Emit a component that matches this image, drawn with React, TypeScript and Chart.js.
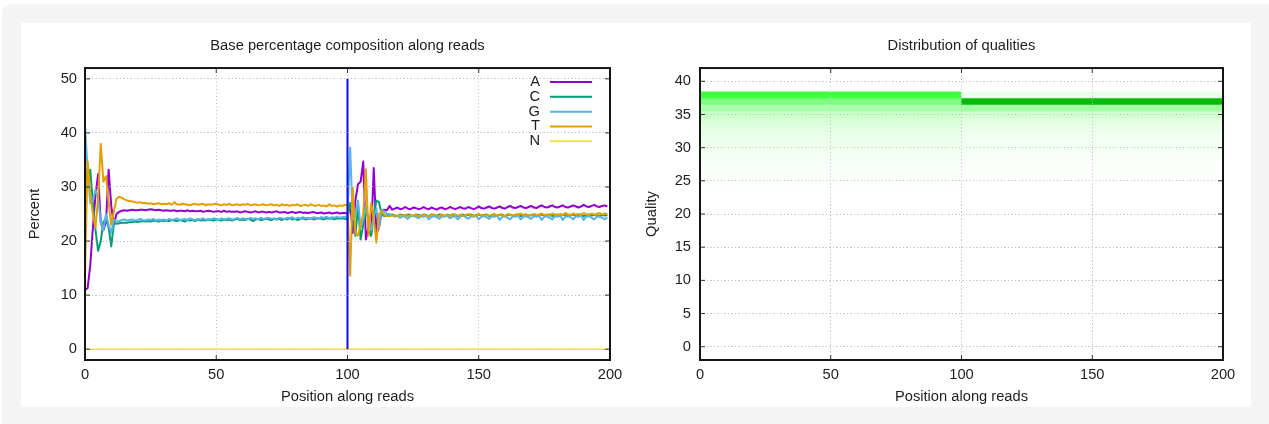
import { useEffect, useRef } from "react";
import { Chart, registerables } from "chart.js";

Chart.register(...registerables);

const FONT_FAMILY = "'Liberation Sans', Arial, Helvetica, sans-serif";
const FONT_SIZE = 14.7;
const TEXT_COLOR = "#1e1e1e";

// ---------- Data: base composition ----------
const positions: number[] = Array.from({ length: 200 }, (_, i) => i);
const positionTicks = [0, 50, 100, 150, 200];
const percentTicks = [0, 10, 20, 30, 40, 50];
const qualityTicks = [0, 5, 10, 15, 20, 25, 30, 35, 40];

const baseA = [
  10.9, 11.3, 15.5, 22.5, 28.5, 32.4, 23.5, 22.0, 23.5, 33.2, 26.5, 23.0, 25.0, 25.4, 25.6, 25.7,
  25.6, 25.7, 25.8, 25.7, 25.7, 25.8, 25.8, 25.7, 25.8, 25.9, 25.8, 25.7, 25.8, 25.7,
  25.6, 25.7, 25.6, 25.6, 25.7, 25.5, 25.6, 25.6, 25.5, 25.7, 25.5, 25.6, 25.5, 25.5, 25.6, 25.4, 25.5, 25.6, 25.5, 25.4,
  25.5, 25.5, 25.4, 25.6, 25.4, 25.5, 25.4, 25.4, 25.5, 25.3, 25.4, 25.5, 25.4, 25.3, 25.4, 25.5, 25.3, 25.4, 25.4, 25.3,
  25.4, 25.3, 25.4, 25.5, 25.3, 25.3, 25.4, 25.2, 25.3, 25.4, 25.2, 25.3, 25.4, 25.2, 25.3, 25.2, 25.3, 25.4, 25.2, 25.2,
  25.3, 25.1, 25.2, 25.3, 25.1, 25.2, 25.3, 25.1, 25.2, 25.2,
  25.0, 27.0, 21.5, 27.5, 30.5, 31.0, 34.7, 20.3, 22.5, 21.0, 33.5, 21.5, 22.5, 25.5, 25.8, 25.7,
  26.5, 25.8, 26.0, 26.2, 25.9, 26.0, 26.3, 26.0, 25.9, 26.2, 26.1, 25.9, 26.0, 26.3, 26.0, 25.9, 26.2, 26.0, 25.8, 26.1,
  26.2, 25.9, 26.0, 26.3, 26.1, 25.9, 26.1, 26.3, 26.0, 26.0, 26.3, 26.1, 25.9, 26.1, 26.4, 26.1, 26.0, 26.2, 26.4, 26.1,
  26.0, 26.2, 26.4, 26.1, 26.0, 26.3, 26.5, 26.2, 26.1, 26.3, 26.5, 26.2, 26.1, 26.3, 26.5, 26.2, 26.1, 26.4, 26.6, 26.3,
  26.2, 26.4, 26.6, 26.3, 26.2, 26.4, 26.6, 26.3, 26.2, 26.4, 26.6, 26.4, 26.2, 26.4, 26.7, 26.4, 26.3, 26.5, 26.7, 26.4,
  26.3, 26.5, 26.6, 26.4,
];

const baseC = [
  33.8, 30.5, 33.2, 27.0, 22.0, 18.2, 20.0, 23.5, 24.2, 22.5, 19.0, 23.3, 23.2, 23.3, 23.4, 23.4,
  23.4, 23.5, 23.5, 23.6, 23.5, 23.6, 23.7, 23.6, 23.7, 23.6, 23.8, 23.7, 23.6, 23.8,
  23.7, 23.8, 23.7, 23.9, 23.8, 23.7, 23.9, 23.8, 23.6, 23.9, 23.8, 23.9, 23.7, 24.0, 23.8, 23.9, 23.8, 24.0, 23.9, 23.8,
  24.0, 23.9, 23.8, 24.0, 23.9, 24.0, 23.8, 24.0, 24.1, 23.9, 24.0, 23.9, 24.1, 24.0, 23.7, 24.0, 24.1, 23.9, 24.0, 24.1,
  24.0, 23.9, 24.1, 24.0, 24.1, 23.9, 24.1, 24.0, 24.2, 24.0, 24.1, 23.9, 24.1, 24.2, 24.0, 24.1, 24.2, 24.0, 24.1, 24.2,
  24.1, 24.0, 24.2, 24.1, 24.2, 24.0, 24.2, 24.1, 24.2, 24.1,
  24.0, 27.0, 25.0, 21.0, 26.5, 20.3, 23.0, 25.5, 24.0, 21.0, 25.0, 27.5, 27.2, 25.0, 24.6, 24.8,
  24.7, 24.9, 24.8, 24.6, 24.9, 24.8, 24.7, 24.9, 24.8, 24.6, 24.9, 24.8, 24.7, 24.9, 24.8, 24.6, 24.9, 24.8, 24.7, 24.9,
  24.8, 24.6, 24.9, 24.7, 24.8, 24.9, 24.6, 24.8, 24.9, 24.7, 24.8, 24.9, 24.6, 24.8, 24.9, 24.7, 24.8, 24.9, 24.6, 24.8,
  24.9, 24.7, 24.8, 24.9, 24.6, 24.8, 24.9, 24.7, 24.8, 24.9, 24.6, 24.8, 24.9, 24.7, 24.8, 24.9, 24.6, 24.8, 24.9, 24.7,
  24.8, 24.9, 24.6, 24.8, 24.9, 24.7, 24.8, 24.9, 24.6, 24.8, 24.9, 24.7, 24.8, 24.9, 24.6, 24.8, 24.9, 24.7, 24.8, 24.9,
  24.6, 24.8, 24.7, 24.8,
];

const baseG = [
  41.5, 33.0, 27.0, 27.5, 29.5, 28.0, 23.5, 22.0, 25.0, 23.0, 21.5, 24.0, 23.6, 23.7, 23.9, 24.0,
  23.8, 23.9, 24.0, 23.8, 23.9, 24.1, 23.9, 23.8, 24.0, 23.9, 24.1, 23.8, 24.0, 23.9,
  24.0, 23.8, 24.1, 23.9, 24.0, 24.2, 23.9, 24.0, 24.1, 23.9, 24.2, 24.0, 23.9, 24.1, 24.0, 24.2, 23.9, 24.1, 24.0, 24.2,
  24.1, 23.9, 24.2, 24.0, 24.1, 24.2, 24.0, 24.1, 24.3, 24.0, 24.2, 24.1, 24.0, 24.3, 24.1, 24.2, 24.0, 24.3, 24.1, 24.2,
  24.3, 24.1, 24.2, 24.0, 24.3, 24.2, 24.1, 24.3, 24.2, 24.4, 24.1, 24.3, 24.2, 24.4, 24.2, 24.3, 24.1, 24.4, 24.3, 24.2,
  24.4, 24.3, 24.5, 24.2, 24.4, 24.3, 24.5, 24.3, 24.4, 24.5,
  24.5, 37.3, 24.0, 24.5, 27.5, 22.5, 24.0, 26.5, 23.5, 22.0, 24.5, 26.0, 22.5, 25.8, 25.5, 25.0,
  25.0, 24.8, 24.5, 24.7, 24.3, 24.6, 24.5, 24.1, 24.6, 24.7, 24.5, 24.2, 24.6, 24.5, 24.7, 24.0, 24.5, 24.6, 24.4, 24.1,
  24.6, 24.5, 24.7, 24.2, 24.5, 24.6, 24.0, 24.5, 24.7, 24.4, 24.1, 24.6, 24.5, 24.7, 24.0, 24.5, 24.6, 24.4, 24.1, 24.6,
  24.5, 24.7, 23.9, 24.5, 24.6, 24.3, 24.0, 24.6, 24.5, 24.7, 24.0, 24.5, 24.6, 24.4, 24.1, 24.6, 24.5, 24.7, 23.9, 24.5,
  24.6, 24.3, 24.0, 24.6, 24.5, 24.7, 23.9, 24.5, 24.6, 24.4, 24.0, 24.6, 24.5, 24.7, 23.9, 24.5, 24.6, 24.3, 24.0, 24.6,
  24.5, 24.3, 24.0, 24.4,
];

const baseT = [
  14.0, 34.7, 29.0, 25.0, 22.5, 28.0, 38.0, 31.0, 32.0, 27.0, 23.0, 25.5, 27.8, 28.2, 28.0, 27.7,
  27.5, 27.4, 27.3, 27.2, 27.1, 27.2, 27.0, 27.1, 26.9, 27.0, 26.8, 26.9, 27.0, 26.8,
  26.9, 26.8, 27.0, 26.7, 27.2, 26.8, 26.7, 26.9, 26.8, 26.7, 26.6, 26.8, 26.9, 26.7, 26.8, 26.9, 26.6, 26.8, 26.7, 26.8,
  26.9, 26.7, 26.6, 26.8, 26.7, 26.9, 26.6, 26.7, 26.8, 26.6, 26.8, 26.7, 26.9, 26.6, 26.7, 26.8, 26.6, 26.7, 26.8, 26.6,
  26.7, 26.8, 26.6, 26.7, 26.5, 26.8, 26.6, 26.7, 26.5, 26.7, 26.6, 26.8, 26.5, 26.6, 26.7, 26.5, 26.8, 26.6, 26.5, 26.7,
  26.5, 26.6, 26.4, 26.8, 26.5, 26.6, 26.4, 26.6, 26.5, 26.7,
  26.6, 13.6, 29.9, 21.5, 21.0, 23.0, 25.0, 33.3, 21.0, 27.0, 24.0, 19.7, 25.0, 25.6, 24.8, 24.6,
  24.6, 24.7, 24.8, 24.6, 24.8, 24.7, 24.9, 24.6, 24.8, 24.7, 24.9, 24.6, 24.7, 24.9, 24.7, 24.6, 24.8, 24.9, 24.7, 24.6,
  24.9, 24.7, 24.8, 24.6, 25.0, 24.8, 24.7, 24.9, 24.6, 24.8, 25.0, 24.7, 24.8, 24.6, 25.0, 24.8, 24.7, 24.9, 24.7, 24.8,
  25.0, 24.7, 24.9, 24.8, 24.6, 25.0, 24.8, 24.7, 24.9, 24.8, 25.1, 24.7, 24.9, 24.8, 24.7, 25.0, 24.8, 24.9, 25.1, 24.8,
  24.9, 24.7, 25.1, 24.9, 24.8, 25.0, 24.8, 25.2, 24.9, 24.8, 25.1, 24.9, 25.0, 24.8, 25.2, 24.9, 24.8, 25.1, 24.9, 25.0,
  25.2, 24.9, 25.1, 25.0,
];

const baseN = [
  0, 0, 0, 0, 0, 0, 0, 0, 0, 0, 0, 0, 0, 0, 0, 0, 0, 0, 0, 0,
  0, 0, 0, 0, 0, 0, 0, 0, 0, 0, 0, 0, 0, 0, 0, 0, 0, 0, 0, 0,
  0, 0, 0, 0, 0, 0, 0, 0, 0, 0, 0, 0, 0, 0, 0, 0, 0, 0, 0, 0,
  0, 0, 0, 0, 0, 0, 0, 0, 0, 0, 0, 0, 0, 0, 0, 0, 0, 0, 0, 0,
  0, 0, 0, 0, 0, 0, 0, 0, 0, 0, 0, 0, 0, 0, 0, 0, 0, 0, 0, 0,
  0, 0, 0, 0, 0, 0, 0, 0, 0, 0, 0, 0, 0, 0, 0, 0, 0, 0, 0, 0,
  0, 0, 0, 0, 0, 0, 0, 0, 0, 0, 0, 0, 0, 0, 0, 0, 0, 0, 0, 0,
  0, 0, 0, 0, 0, 0, 0, 0, 0, 0, 0, 0, 0, 0, 0, 0, 0, 0, 0, 0,
  0, 0, 0, 0, 0, 0, 0, 0, 0, 0, 0, 0, 0, 0, 0, 0, 0, 0, 0, 0,
  0, 0, 0, 0, 0, 0, 0, 0, 0, 0, 0, 0, 0, 0, 0, 0, 0, 0, 0, 0,
];

const readBoundaryX = [100, 100];
const readBoundaryY = [0, 50];

// ---------- Data: quality distribution ----------
const readSegments = ["1-100", "101-200"];
const qualities = [39, 38, 37, 36, 35, 34, 33, 32, 31, 30, 29, 28, 27, 26, 25, 24, 23];
const read1Freq = [0.0, 0.5, 0.34, 0.22, 0.14, 0.1, 0.075, 0.06, 0.05, 0.04, 0.032, 0.025, 0.018, 0.012, 0.008, 0.004, 0.002];
const read2Freq = [0.0, 0.06, 0.93, 0.25, 0.12, 0.075, 0.055, 0.045, 0.035, 0.028, 0.02, 0.014, 0.009, 0.005, 0.003, 0.002, 0.001];

function greenShade(t: number): string {
  const lo = [255, 255, 255];
  const mid = [64, 255, 64];
  const hi = [0, 176, 0];
  let c: number[];
  if (t <= 0.5) {
    const k = t / 0.5;
    c = lo.map((v, i) => v + (mid[i] - v) * k);
  } else {
    const k = (t - 0.5) / 0.5;
    c = mid.map((v, i) => v + (hi[i] - v) * k);
  }
  return `rgb(${c.map((v) => Math.round(v)).join(",")})`;
}

const font = { family: FONT_FAMILY, size: FONT_SIZE, weight: "normal" as const };
const GRID_COLOR = "#bdbdbd";

const framePlugin = {
  id: "gnuFrame",
  afterDatasetsDraw(chart: any, _args: any, opts: any) {
    const { ctx, chartArea: a, scales } = chart;
    if (opts && opts.gridX) scales.x.drawGrid(a);
    if (opts && opts.gridY) scales.y.drawGrid(a);
    ctx.save();
    ctx.strokeStyle = "#333";
    ctx.lineWidth = 1;
    const tl = 5;
    ctx.beginPath();
    for (const t of scales.x.ticks) {
      const p = scales.x.getPixelForValue(t.value);
      ctx.moveTo(p, a.bottom);
      ctx.lineTo(p, a.bottom - tl);
      ctx.moveTo(p, a.top);
      ctx.lineTo(p, a.top + tl);
    }
    for (const t of scales.y.ticks) {
      const p = scales.y.getPixelForValue(t.value);
      ctx.moveTo(a.left, p);
      ctx.lineTo(a.left + tl, p);
      ctx.moveTo(a.right, p);
      ctx.lineTo(a.right - tl, p);
    }
    ctx.stroke();
    ctx.strokeStyle = "#151515";
    ctx.lineWidth = 2;
    ctx.strokeRect(a.left, a.top, a.right - a.left, a.bottom - a.top);
    ctx.restore();
  },
};

const legendPlugin = {
  id: "gnuLegend",
  afterDraw(chart: any) {
    const { ctx, chartArea: a } = chart;
    ctx.save();
    ctx.font = `${FONT_SIZE}px ${FONT_FAMILY}`;
    ctx.textAlign = "right";
    ctx.textBaseline = "middle";
    ctx.fillStyle = TEXT_COLOR;
    let row = 0;
    for (const ds of chart.data.datasets) {
      if (!ds.label) continue;
      const y = a.top + 14 + row * 14.8;
      ctx.fillText(ds.label, a.right - 70, y);
      ctx.strokeStyle = ds.borderColor;
      ctx.lineWidth = 2;
      ctx.beginPath();
      ctx.moveTo(a.right - 60, y);
      ctx.lineTo(a.right - 18, y);
      ctx.stroke();
      row++;
    }
    ctx.restore();
  },
};

function xAxis() {
  return {
    type: "linear",
    min: 0,
    max: 200,
    offset: false,
    afterBuildTicks: (s: any) => {
      s.ticks = positionTicks.map((v) => ({ value: v }));
    },
    afterFit: (s: any) => {
      s.height = 47;
    },
    ticks: { padding: 6.2, font, color: TEXT_COLOR },
    grid: { drawTicks: false, offset: false, color: GRID_COLOR, lineWidth: 1 },
    border: { display: false, dash: [1, 2.5] },
    title: { display: true, text: "Position along reads", font, color: TEXT_COLOR, padding: { top: 0, bottom: 1.2 } },
  };
}

function yAxis(ticksArr: number[], min: number, max: number, label: string, titlePad: number, tickPad: number) {
  return {
    type: "linear",
    min,
    max,
    afterBuildTicks: (s: any) => {
      s.ticks = ticksArr.map((v) => ({ value: v }));
    },
    afterFit: (s: any) => {
      s.width = 64;
    },
    ticks: { padding: tickPad, font, color: TEXT_COLOR },
    grid: { drawTicks: false, color: GRID_COLOR, lineWidth: 1 },
    border: { display: false, dash: [1, 2.5] },
    title: { display: true, text: label, font, color: TEXT_COLOR, padding: { top: titlePad, bottom: 0 } },
  };
}

function titleOpts(text: string) {
  return {
    display: true,
    text,
    fullSize: false,
    font,
    color: TEXT_COLOR,
    padding: { top: 14.5, bottom: 12.9 },
  };
}

function compositionConfig(): any {
  const line = (label: string, data: number[], color: string, order: number, width = 2) => ({
    label,
    data,
    borderColor: color,
    backgroundColor: color,
    borderWidth: width,
    pointRadius: 0,
    tension: 0,
    fill: false,
    order,
    borderJoinStyle: "round",
  });
  return {
    type: "line",
    data: {
      labels: positions,
      datasets: [
        line("A", baseA, "#9400d3", 6),
        line("C", baseC, "#009e73", 5),
        line("G", baseG, "#56b4e9", 4),
        line("T", baseT, "#e69f00", 3),
        line("N", baseN, "#f0e442", 2, 1.6),
        {
          label: "",
          data: readBoundaryX.map((x, i) => ({ x, y: readBoundaryY[i] })),
          borderColor: "#0a0aff",
          borderWidth: 2,
          pointRadius: 0,
          order: 1,
        },
      ],
    },
    options: {
      responsive: false,
      animation: false,
      layout: { padding: { left: 0, right: 26, top: 0, bottom: 0 } },
      plugins: {
        legend: { display: false },
        tooltip: { enabled: false },
        title: titleOpts("Base percentage composition along reads"),
        gnuFrame: { gridX: false, gridY: true },
      },
      scales: {
        x: xAxis(),
        y: yAxis(percentTicks, -2, 52, "Percent", 4.9, 8),
      },
    },
    plugins: [framePlugin, legendPlugin],
  };
}

function qualityConfig(): any {
  const datasets = qualities.map((q, i) => ({
    label: `Q${q}`,
    data: [
      [q - 0.5, q + 0.5],
      [q - 0.5, q + 0.5],
    ],
    backgroundColor: [greenShade(read1Freq[i]), greenShade(read2Freq[i])],
    borderWidth: 0,
    borderSkipped: false,
    barPercentage: 1,
    categoryPercentage: 1,
    grouped: false,
    xAxisID: "xSeg",
    yAxisID: "y",
  }));
  return {
    type: "bar",
    data: { labels: readSegments, datasets },
    options: {
      responsive: false,
      animation: false,
      layout: { padding: { left: 0, right: 28, top: 0, bottom: 0 } },
      plugins: {
        legend: { display: false },
        tooltip: { enabled: false },
        title: titleOpts("Distribution of qualities"),
        gnuFrame: { gridX: true, gridY: true },
      },
      scales: {
        x: xAxis(),
        xSeg: { type: "category", display: false, offset: true, grid: { display: false } },
        y: yAxis(qualityTicks, -2, 42, "Quality", 7.2, 9),
      },
    },
    plugins: [framePlugin],
  };
}

function ChartCanvas({ left, makeConfig }: { left: number; makeConfig: () => any }) {
  const ref = useRef<HTMLCanvasElement | null>(null);
  useEffect(() => {
    if (!ref.current) return;
    const chart = new Chart(ref.current, makeConfig());
    return () => chart.destroy();
  }, [makeConfig]);
  return (
    <canvas
      ref={ref}
      width={615}
      height={384}
      style={{ position: "absolute", left, top: 0, width: 615, height: 384 }}
    />
  );
}

export default function App() {
  return (
    <div
      style={{
        position: "fixed",
        left: 0,
        top: 0,
        width: 1269,
        height: 424,
        background: "#ffffff",
        overflow: "hidden",
      }}
    >
      <div
        style={{
          position: "absolute",
          left: 2,
          top: 4,
          width: 1290,
          height: 440,
          background: "#f4f4f4",
          borderRadius: 9,
        }}
      />
      <div
        style={{
          position: "absolute",
          left: 21,
          top: 23,
          width: 1230,
          height: 384,
          background: "#ffffff",
        }}
      >
        <ChartCanvas left={0} makeConfig={compositionConfig} />
        <ChartCanvas left={615} makeConfig={qualityConfig} />
      </div>
    </div>
  );
}
